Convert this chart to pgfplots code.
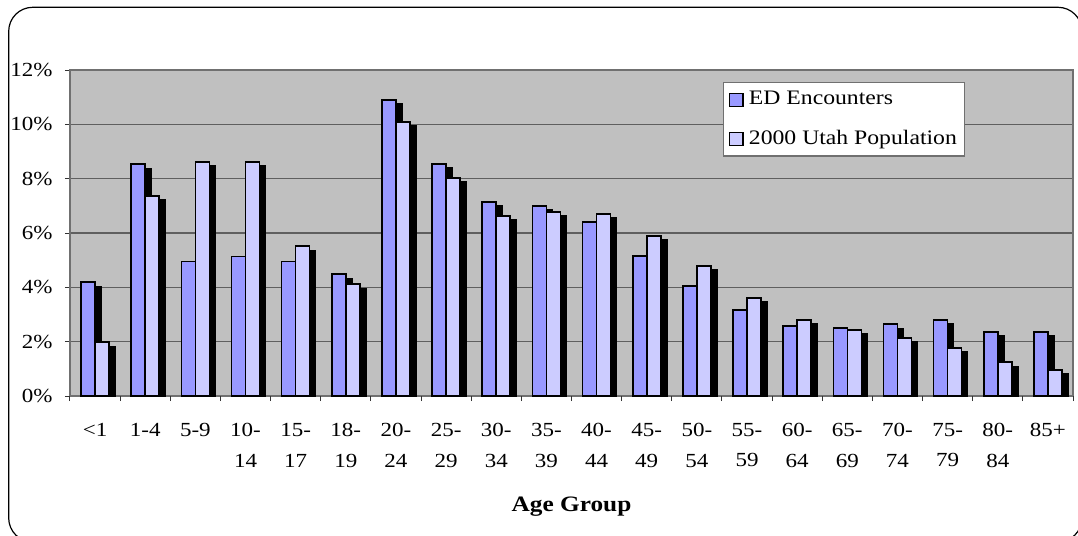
\documentclass[border=0pt]{standalone}
\usepackage{pgfplots}
\pgfplotsset{compat=1.18}
\usepackage{pgfplotstable}
\usetikzlibrary{shadows}
\usepackage{fontspec}
\setmainfont{Liberation Serif}[FakeStretch=1.15]
\definecolor{edcol}{HTML}{9999FF}
\definecolor{popcol}{HTML}{CCCCFF}
\definecolor{bggray}{HTML}{C0C0C0}
\definecolor{gridgray}{HTML}{5F5F5F}
\definecolor{axgray}{HTML}{707070}

\pgfplotstableread{
x ed pop
0 4.19 1.98
1 8.53 7.37
2 4.95 8.62
3 5.14 8.62
4 4.95 5.52
5 4.49 4.12
6 10.90 10.09
7 8.54 8.03
8 7.15 6.63
9 7.00 6.78
10 6.41 6.70
11 5.16 5.89
12 4.05 4.79
13 3.17 3.61
14 2.58 2.80
15 2.50 2.43
16 2.65 2.14
17 2.80 1.77
18 2.36 1.25
19 2.36 0.96
}\datatable

\begin{document}
\begin{tikzpicture}
\begin{axis}[
  at={(0pt,0pt)}, anchor=south west,
  scale only axis,
  width=501.5pt, height=163pt,
  xmin=-0.5, xmax=19.5,
  ymin=0, ymax=12,
  axis background/.style={fill=bggray},
  axis line style={draw=axgray, line width=0.7pt},
  ymajorgrids, grid style={draw=gridgray, line width=0.6pt},
  tick align=outside,
  xtick pos=bottom, ytick pos=left,
  major tick length=2.5pt,
  tick style={draw=black!80, line width=0.5pt},
  ytick={0,2,...,12},
  yticklabels={0\%,2\%,4\%,6\%,8\%,10\%,12\%},
  yticklabel style={font=\fontsize{10}{12}\selectfont, anchor=east, inner sep=0pt, xshift=-6pt},
  xtick={0,...,19},
  xtick style={draw=none},
  xticklabels={{<1\\\mbox{}},{1-4\\\mbox{}},{5-9\\\mbox{}},{10-\\14},{15-\\17},{18-\\19},{20-\\24},{25-\\29},{30-\\34},{35-\\39},{40-\\44},{45-\\49},{50-\\54},{55-\\59},{60-\\64},{65-\\69},{70-\\74},{75-\\79},{80-\\84},{85+\\\mbox{}}},
  xticklabel style={font=\fontsize{10}{15.35}\selectfont, align=center, anchor=north, inner sep=0pt, yshift=-10.9pt},
  extra x ticks={-0.5,0.5,...,19.5},
  extra x tick labels={},
  extra x tick style={grid=none, xtick style={draw=black!80, line width=0.5pt}},
  xlabel={\textbf{Age Group}},
  xlabel style={at={(axis description cs:0.5,0)}, anchor=base, yshift=-57.85pt, font=\fontsize{11}{13}\selectfont},
  legend style={at={(0.6508,0.9623)}, anchor=north west, draw=axgray, fill=white, line width=0.6pt,
    inner xsep=2.65pt, inner ysep=3pt, row sep=8.6pt, column sep=1.7pt,
    font=\fontsize{10.3}{12}\selectfont,
    nodes={inner sep=1pt, text height=7pt, text depth=2pt}},
  legend cell align=left,
  ybar, bar width=7pt,
]
\addplot[forget plot, fill=edcol, draw=black, line width=0.8pt, bar shift=-3.5pt,
  drop shadow={shadow xshift=3pt, shadow yshift=-2.15pt, fill=black, opacity=1}]
  table[x=x, y=ed] {\datatable};
\addplot[forget plot, fill=popcol, draw=black, line width=0.8pt, bar shift=3.5pt,
  drop shadow={shadow xshift=3pt, shadow yshift=-2.15pt, fill=black, opacity=1}]
  table[x=x, y=pop] {\datatable};
\addlegendimage{legend image code/.code={\draw[fill=edcol, draw=black, line width=0.8pt] (0pt,-3.25pt) rectangle (6.65pt,3.25pt);}}
\addlegendentry{ED Encounters}
\addlegendimage{legend image code/.code={\draw[fill=popcol, draw=black, line width=0.8pt] (0pt,-3.25pt) rectangle (6.65pt,3.25pt);}}
\addlegendentry{2000 Utah Population}
\end{axis}
\draw[black, line width=0.6pt, rounded corners=12pt] (-30.65pt,-73pt) rectangle (506pt,194.35pt);
\pgfresetboundingbox
\useasboundingbox (-35pt,-70pt) rectangle (504pt,198pt);
\end{tikzpicture}
\end{document}
